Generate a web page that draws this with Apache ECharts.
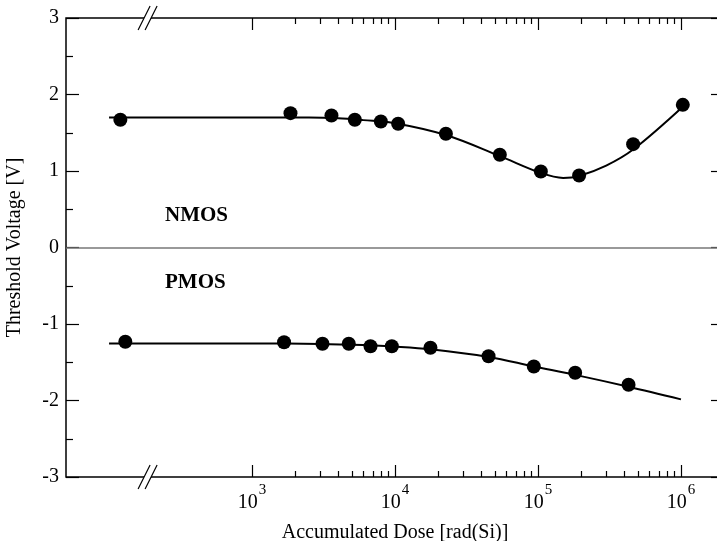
<!DOCTYPE html>
<html>
<head>
<meta charset="utf-8">
<script src="https://cdn.jsdelivr.net/npm/echarts@6/dist/echarts.min.js"></script>
<style>
  html, body { margin: 0; padding: 0; background: #fff; }
  #chart { width: 717px; height: 541px; }
</style>
</head>
<body>
<div id="chart"></div>
<script>
// Measured threshold voltages (dose in rad(Si), voltage in V)
const nmosDose = [120, 1858, 3594, 5236, 7962, 10520, 22700, 54100, 104700, 194000, 463000, 1030000];
const nmosV    = [1.67, 1.756, 1.725, 1.669, 1.647, 1.617, 1.486, 1.212, 0.993, 0.941, 1.351, 1.865];

const pmosDose = [130, 1675, 3110, 4750, 6740, 9500, 17700, 45100, 93500, 182000, 430000];
const pmosV    = [-1.233, -1.238, -1.259, -1.259, -1.29, -1.29, -1.311, -1.421, -1.556, -1.638, -1.795];

// Fitted trend curves
const nmosFitDose = [100, 1000, 2500, 4000, 6000, 10000, 22700, 54100, 104700, 150000, 194000, 300000, 463000, 1030000];
const nmosFitV    = [1.70, 1.70, 1.70, 1.69, 1.665, 1.625, 1.47, 1.195, 0.975, 0.91, 0.935, 1.07, 1.28, 1.84];

const pmosFitDose = [100, 1000, 3000, 6000, 10000, 17700, 45100, 93500, 182000, 430000, 1000000];
const pmosFitV    = [-1.255, -1.255, -1.26, -1.275, -1.295, -1.33, -1.43, -1.555, -1.665, -1.82, -1.985];

// Axis ticks
const majorTicks = [1e3, 1e4, 1e5, 1e6];
const minorTicks = [2e3, 3e3, 4e3, 5e3, 6e3, 7e3, 8e3, 9e3,
                    2e4, 3e4, 4e4, 5e4, 6e4, 7e4, 8e4, 9e4,
                    2e5, 3e5, 4e5, 5e5, 6e5, 7e5, 8e5, 9e5, 2e6];
const doseMin = 50, doseMax = 2e6;
const breakDose = 186;

const pairs = (xs, ys) => xs.map((x, i) => [x, ys[i]]);
const FONT = '"Liberation Serif", "Times New Roman", serif';

const chart = echarts.init(document.getElementById('chart'), null, { renderer: 'canvas' });

function xAxisDef(pos, ticks, len, withLabels) {
  return {
    type: 'log', logBase: 10, min: doseMin, max: doseMax, position: pos,
    axisLine: { show: false, onZero: false },
    axisTick: { show: true, inside: true, length: len, customValues: ticks,
                lineStyle: { color: '#000', width: 1.2 } },
    axisLabel: withLabels ? {
      show: true, customValues: ticks, margin: 6,
      formatter: v => '{b|10}{s|' + Math.round(Math.log10(v)) + '}',
      rich: {
        b: { fontFamily: FONT, fontSize: 20, color: '#000', lineHeight: 30, verticalAlign: 'bottom' },
        s: { fontFamily: FONT, fontSize: 15, color: '#000', lineHeight: 30, verticalAlign: 'top', padding: [0, 0, 0, 1] }
      }
    } : { show: false },
    splitLine: { show: false },
    minorTick: { show: false }, minorSplitLine: { show: false },
    name: withLabels ? 'Accumulated Dose [rad(Si)]' : '',
    nameLocation: 'middle', nameGap: 46,
    nameTextStyle: { fontFamily: FONT, fontSize: 20, color: '#000' }
  };
}

function yAxisDef(pos, withLabels) {
  return {
    type: 'value', min: -3, max: 3, interval: 1, position: pos,
    axisLine: { show: false, onZero: false },
    axisTick: { show: true, inside: true, length: 13, lineStyle: { color: '#000', width: 1.2 } },
    minorTick: { show: true, splitNumber: 2, length: 7, lineStyle: { color: '#000', width: 1.2 } },
    axisLabel: withLabels ? { show: true, margin: 7, fontFamily: FONT, fontSize: 20, color: '#000' } : { show: false },
    splitLine: { show: false },
    name: withLabels ? 'Threshold Voltage [V]' : '',
    nameLocation: 'middle', nameGap: 41, nameRotate: 90,
    nameTextStyle: { fontFamily: FONT, fontSize: 20, color: '#000' }
  };
}

const option = {
  animation: false,
  backgroundColor: '#fff',
  grid: {
    left: 66, top: 18, width: 658, height: 459, containLabel: false, outerBoundsMode: 'none',
    show: true, borderColor: '#000', borderWidth: 1.5, backgroundColor: 'transparent'
  },
  xAxis: [
    xAxisDef('bottom', majorTicks, 12, true),
    xAxisDef('bottom', minorTicks, 6, false),
    xAxisDef('top', majorTicks, 12, false),
    xAxisDef('top', minorTicks, 6, false)
  ],
  yAxis: [yAxisDef('left', true), yAxisDef('right', false)],
  series: [
    {
      name: 'NMOS fit', type: 'line', smooth: 0.35, showSymbol: false,
      data: pairs(nmosFitDose, nmosFitV),
      lineStyle: { color: '#000', width: 2 }, z: 3,
      markLine: {
        silent: true, symbol: 'none', label: { show: false },
        lineStyle: { color: '#777', width: 1.5, type: 'solid' },
        data: [{ yAxis: 0 }]
      }
    },
    {
      name: 'PMOS fit', type: 'line', smooth: 0.35, showSymbol: false,
      data: pairs(pmosFitDose, pmosFitV),
      lineStyle: { color: '#000', width: 2 }, z: 3
    },
    {
      name: 'NMOS', type: 'scatter', symbol: 'circle', symbolSize: 14,
      data: pairs(nmosDose, nmosV), itemStyle: { color: '#000', opacity: 1 }, z: 4
    },
    {
      name: 'PMOS', type: 'scatter', symbol: 'circle', symbolSize: 14,
      data: pairs(pmosDose, pmosV), itemStyle: { color: '#000', opacity: 1 }, z: 4
    }
  ]
};

chart.setOption(option);

// "//" marks where the dose axis is broken
function breakMark(cx, cy) {
  const els = [];
  els.push({
    type: 'polygon', silent: true, z: 100,
    shape: { points: [[cx - 9.5, cy + 12], [cx + 2.5, cy - 12], [cx + 9.5, cy - 12], [cx - 2.5, cy + 12]] },
    style: { fill: '#fff' }
  });
  [-3.5, 3.5].forEach(off => {
    els.push({
      type: 'line', silent: true, z: 101,
      shape: { x1: cx + off - 6, y1: cy + 12, x2: cx + off + 6, y2: cy - 12 },
      style: { stroke: '#000', lineWidth: 1.2 }
    });
  });
  return els;
}

const bx = chart.convertToPixel({ xAxisIndex: 0 }, breakDose);
const yTop = chart.convertToPixel({ yAxisIndex: 0 }, 3);
const yBot = chart.convertToPixel({ yAxisIndex: 0 }, -3);

chart.setOption({
  graphic: [
    ...breakMark(bx, yTop),
    ...breakMark(bx, yBot),
    {
      type: 'text', silent: true, left: 165, top: 205,
      style: { text: 'NMOS', fontFamily: FONT, fontWeight: 'bold', fontSize: 21, fill: '#000' }
    },
    {
      type: 'text', silent: true, left: 165, top: 272,
      style: { text: 'PMOS', fontFamily: FONT, fontWeight: 'bold', fontSize: 21, fill: '#000' }
    }
  ]
});
</script>
</body>
</html>
